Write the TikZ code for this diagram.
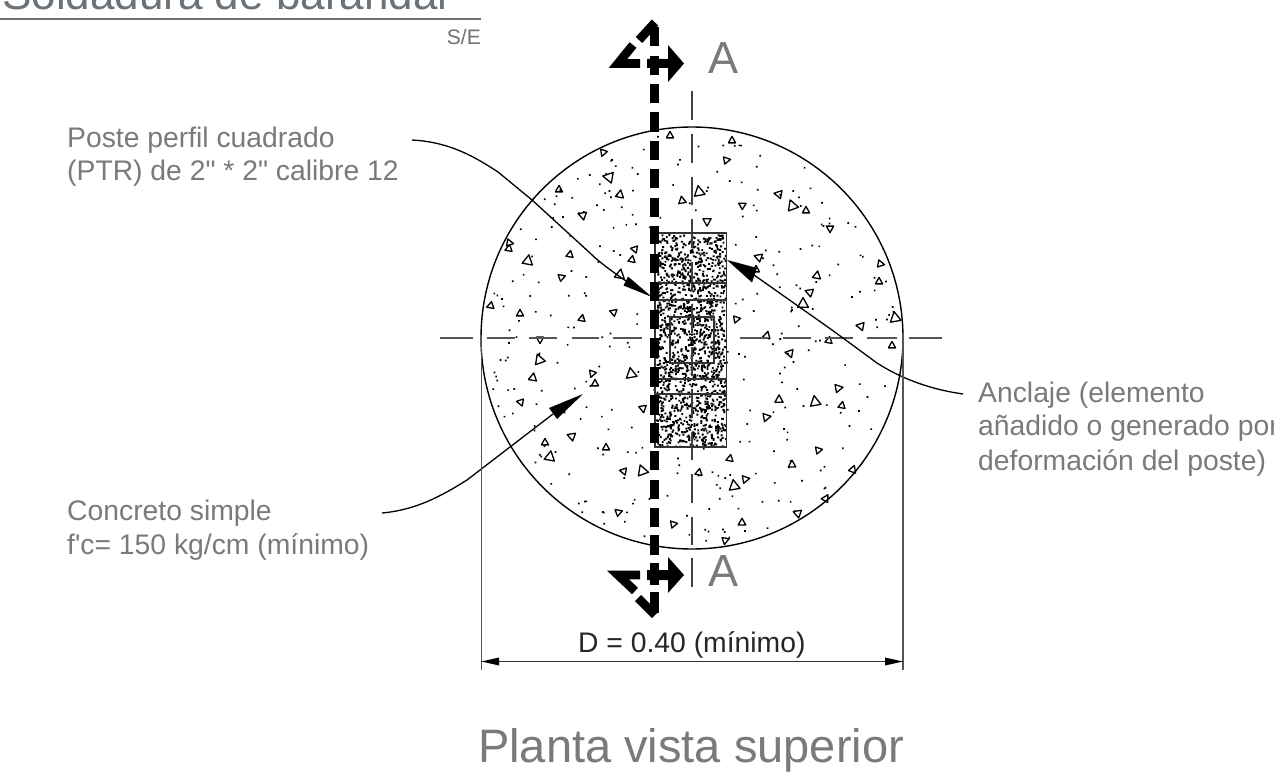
\documentclass[tikz,border=0pt]{standalone}
\usepackage{fontspec}
\setmainfont{Liberation Sans}
\newfontfamily\plainsans{Liberation Sans}[Ligatures=NoCommon]
\definecolor{txtgray}{HTML}{7A7A7A}
\definecolor{titlegray}{HTML}{6B7278}
\definecolor{axisgray}{HTML}{555555}
\newcommand{\fsz}[1]{\fontsize{#1}{#1}\selectfont}
\tikzset{
  x=1pt,y=-1pt,
  lbl/.style={anchor=base west,inner sep=0pt,text=txtgray,font=\plainsans\fsz{28.3}},
  leader/.style={draw=black,line width=1.3pt},
  axis/.style={draw=axisgray,line width=1.6pt},
  axisv/.style={draw=black!75,line width=1.3pt},
  heavy/.style={draw=black,line width=8.8pt,line join=miter,line cap=butt},
  grain/.style={draw=black,line width=1.3pt,line join=round},
}
\begin{document}
\begin{tikzpicture}
\useasboundingbox (0,0) rectangle (1274,776);
\clip (0,0) rectangle (1274,776);
\fill[white] (0,0) rectangle (1274,776);
% title
\node[anchor=base west,inner sep=0pt,text=titlegray,font=\fsz{44}] (title) at (2,10) {Soldadura de barandal};
\draw[titlegray,line width=1.4pt] (0,19) -- (481,19);
\node[anchor=base east,inner sep=0pt,text=titlegray,font=\fsz{21}] (scale) at (481,45) {S/E};
% concrete dots
\pgfmathsetseed{4711}
\fill[black] \foreach \i in {1,...,330}{
  [/utils/exec={\pgfmathsetmacro{\rr}{206*sqrt(rnd)}\pgfmathsetmacro{\aa}{360*rnd}}]
  ({692+\rr*cos(\aa)},{338+\rr*sin(\aa)}) rectangle +(1.7,1.7)
};
% aggregate triangles
\foreach \px/\py/\ps/\pa in {
603/153/3.6/200,608/177/5.4/280,620/194/4.1/10,559/189/3.6/0,582/215/4.1/290,510/243/3.6/100,509/248/3.6/10,528/260/5.2/10,570/254/3.6/10,634/249/3.6/280,632/259/3.6/10,620/274/5/10,562/277/3.6/70,490/306/3.6/250,520/313/3.6/0,582/318/3.6/10,613/312/3.6/290,
732/140/3.6/0,727/160/3.6/80,778/194/4.1/280,792/205/5.4/340,806/210/3.6/0,743/205/3.6/60,830/229/3.6/180,758/257/4.1/290,756/269/3.6/0,817/275/4.1/10,881/264/3.6/100,879/281/3.6/0,809/292/4.1/290,803/303/5.4/0,895/317/5.4/350,860/326/4.1/280,737/319/3.6/80,767/335/3.8/15,
540/340/3.6/180,539/359/5.2/340,533/377/4.1/10,592/374/3.6/200,595/383/3.6/0,631/373/5.4/350,520/402/3.6/280,643/409/3.8/170,545/442/3.6/0,571/436/4.1/290,606/447/3.6/0,550/456/5.2/10,623/471/3.6/280,642/470/5.4/340,619/512/3.6/70,
829/340/3.6/10,892/345/3.6/0,789/353/4.1/280,839/388/4.1/80,779/399/4.1/0,815/401/5.4/350,842/405/3.6/10,767/417/4.1/80,819/450/3.6/80,730/458/3.6/10,792/464/3.8/0,853/469/3.8/20,746/479/3.8/80,734/485/5.4/350,826/498/3.8/30,797/513/4.1/290,742/522/3.8/0,725/541/3.6/190,
670/135/3.6/0,699/191/5.4/350,682/200/3.8/350,707/222/4.1/180,674/524/3.6/80,699/472/3.6/10}{
  \draw[grain,shift={(\px,\py)},rotate=-\pa] (-\ps,0.8*\ps) -- (\ps,0.8*\ps) -- (0,-\ps) -- cycle;
}
% circle
\draw[black,line width=1.4pt] (692,338) circle [radius=211];
% anchor block stipple
\pgfmathsetseed{1234}
\fill[black] \foreach \i in {1,...,1500}{
  ({656+69*rnd},{234+212*rnd}) rectangle +(1.9,1.9)
};
% centre lines
\foreach \a/\b in {440/473,487/515,529/557,572/599,613/642,740/768,783/811,825/853,867/897,909/942}{
  \draw[axis] (\a,338) -- (\b,338);
}
\foreach \a/\b in {91/120,134/163,177/205,219/248,262/291,304/333,347/376,389/418,432/460,474/503,517/545,558/587}{
  \draw[axisv] (692,\a) -- (692,\b);
}
% anchor block
\draw[axisgray!60!black,line width=1.5pt] (655,233) rectangle (726.5,447);
\foreach \yy in {283,300,379,394}{
  \draw[black!80,line width=1.4pt] (655,\yy) -- (726.5,\yy);
}
\draw[black!80,line width=1.3pt] (670,317) rectangle (714,363);
% thick section line
\foreach \a/\b in {27/46,55.6/75,84/103,112.4/132,140.8/160,169.2/188,197.6/217,226/244,254/273,282/300.5,310/329,338/358,367/387,395/415,423/443,451/470,479.6/499,508/527,535/555,563/585,592/613}{
  \fill[black] (650,\a) rectangle (659,\b);
}
\draw[heavy] (640,63.5) -- (618,63.5) -- (633,45);
\draw[heavy] (639,40) -- (655,22.5);
\draw[heavy] (640,575) -- (618,575) -- (635,591);
\draw[heavy] (638,598) -- (655,615);
% section arrows
\fill[black] (647,59) -- (668,59) -- (668,45) -- (684,63.5) -- (668,82) -- (668,68) -- (647,68) -- cycle;
\fill[black] (647,570) -- (668,570) -- (668,557) -- (684,575) -- (668,593) -- (668,580) -- (647,580) -- cycle;
\node[anchor=base west,inner sep=0pt,text=txtgray,font=\fsz{45}] (secA) at (708,74) {A};
\node[anchor=base west,inner sep=0pt,text=txtgray,font=\fsz{45}] (secB) at (708,586) {A};
% labels
\node[lbl] (poste) at (67,147) {Poste perfil cuadrado};
\node[lbl] (poste2) at (67,180) {(PTR) de 2" * 2" calibre 12};
\node[lbl] (conc) at (67,520) {Concreto simple};
\node[lbl] (conc2) at (67,554) {f'c= 150 kg/cm (mínimo)};
\node[lbl] (anc) at (978,402) {Anclaje (elemento};
\node[lbl] (anc2) at (978,435) {añadido o generado por};
\node[lbl] (anc3) at (978,470) {deformación del poste)};
% leaders
\coordinate (pstart) at (412,140);
\coordinate (ptip) at (652,297);
\draw[leader] (pstart) .. controls (450,142) and (475,157) .. (498,172) -- (532,200) -- (590,253) .. controls (598,261) and (610,270) .. (626,281);
\fill[black] (ptip) -- (628,276.5) -- (623.5,285.5) -- cycle;
\coordinate (cstart) at (382,513);
\coordinate (ctip) at (583,394);
\draw[leader] (cstart) .. controls (415,510) and (440,497) .. (467,480) -- (553,414);
\fill[black] (ctip) -- (549,408) -- (557,419) -- cycle;
\coordinate (astart) at (963,394);
\coordinate (atip) at (727,260);
\draw[leader] (astart) .. controls (935,390) and (905,381) .. (877,363) -- (832,330) -- (754,275);
\fill[black] (atip) -- (757,268) -- (752,282.5) -- cycle;
% dimension
\draw[axisgray,line width=1.5pt] (481.5,338) -- (481.5,670);
\draw[axisgray,line width=1.5pt] (903,338) -- (903,670);
\coordinate (dl) at (481.5,661.5);
\coordinate (dr) at (903,661.5);
\draw[black!80,line width=1.3pt] (dl) -- (dr);
\fill[black] (dl) -- (499,657.5) -- (499,665.5) -- cycle;
\fill[black] (dr) -- (885,657.5) -- (885,665.5) -- cycle;
\node[anchor=base west,inner sep=0pt,text=black!85,font=\fsz{28.3}] (dim) at (578,652) {D = 0.40 (mínimo)};
\node[anchor=base west,inner sep=0pt,text=txtgray,font=\fsz{47}] (plan) at (478,762) {Planta vista superior};
\end{tikzpicture}
\end{document}
